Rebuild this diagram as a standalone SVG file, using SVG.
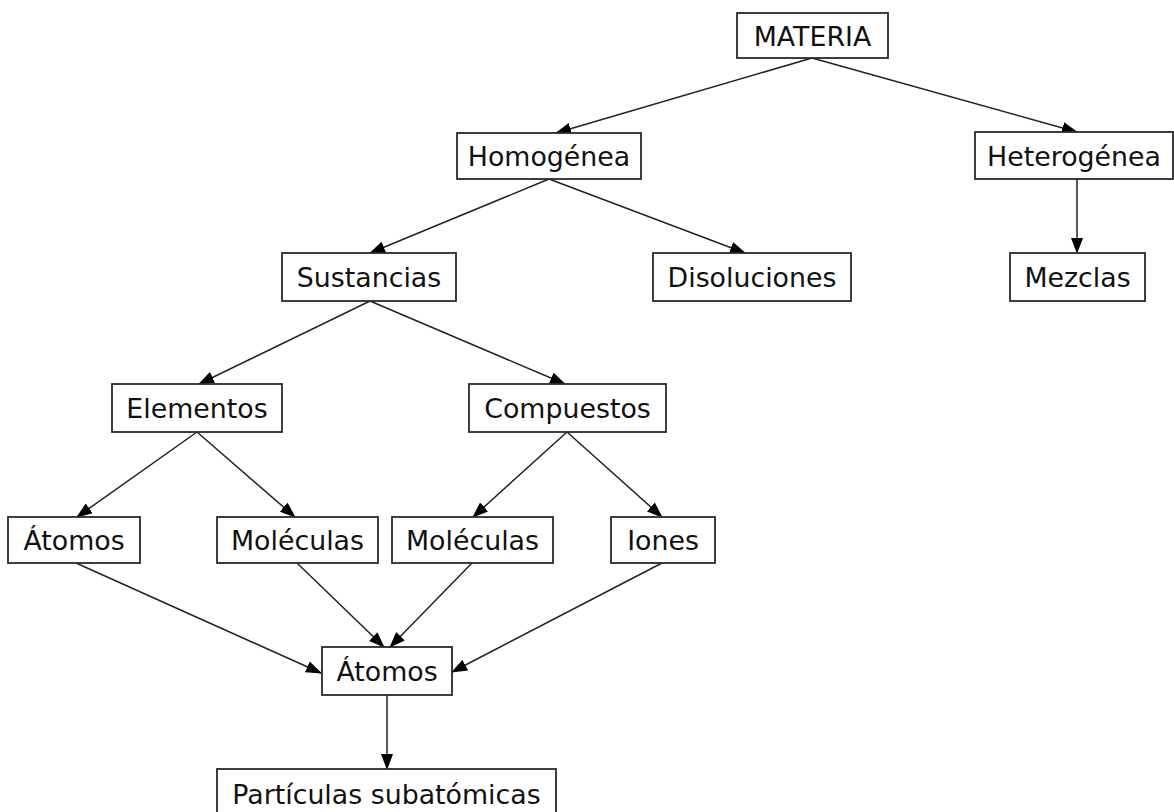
<svg xmlns="http://www.w3.org/2000/svg" width="1174" height="812" viewBox="0 0 1174 812">
<style>
rect{fill:#fff;stroke:#2a2a2a;stroke-width:1.8}
text{font-family:"DejaVu Sans",sans-serif;font-size:26.8px;fill:#111;text-anchor:middle}
#edges line{stroke:#222;stroke-width:1.5;marker-end:url(#ah)}
</style>
<defs>
<marker id="ah" markerWidth="16" markerHeight="12" refX="15" refY="6" orient="auto" markerUnits="userSpaceOnUse">
<path d="M0,0 L16,6 L0,12 Z" fill="#000"/>
</marker>
</defs>
<rect x="0" y="0" width="1174" height="812" style="fill:#fff;stroke:none"/>
<g id="edges">
<line x1="812" y1="58" x2="556" y2="133"/>
<line x1="812" y1="58" x2="1077" y2="132"/>
<line x1="549" y1="179" x2="370" y2="253"/>
<line x1="549" y1="179" x2="745" y2="253"/>
<line x1="1077" y1="179" x2="1077" y2="253"/>
<line x1="370" y1="301" x2="199" y2="384"/>
<line x1="370" y1="301" x2="565" y2="384"/>
<line x1="197" y1="432" x2="77" y2="517"/>
<line x1="197" y1="432" x2="295" y2="517"/>
<line x1="567" y1="432" x2="473" y2="517"/>
<line x1="567" y1="432" x2="662" y2="517"/>
<line x1="76" y1="563" x2="321" y2="673"/>
<line x1="297" y1="563" x2="384" y2="647"/>
<line x1="472" y1="563" x2="390" y2="647"/>
<line x1="662" y1="563" x2="452" y2="672"/>
<line x1="387" y1="695" x2="387" y2="769"/>
</g>
<g id="materia"><rect x="737" y="13" width="151" height="45"/><text x="812.5" y="46">MATERIA</text></g>
<g id="homogenea"><rect x="457" y="133" width="184" height="46"/><text x="549" y="166">Homogénea</text></g>
<g id="heterogenea"><rect x="975" y="132" width="198" height="47"/><text x="1074" y="166">Heterogénea</text></g>
<g id="sustancias"><rect x="282" y="253" width="174" height="48"/><text x="369" y="287">Sustancias</text></g>
<g id="disoluciones"><rect x="653" y="253" width="198" height="48"/><text x="752" y="287">Disoluciones</text></g>
<g id="mezclas"><rect x="1010" y="253" width="135" height="48"/><text x="1077.5" y="287">Mezclas</text></g>
<g id="elementos"><rect x="112" y="384" width="170" height="48"/><text x="197" y="418">Elementos</text></g>
<g id="compuestos"><rect x="469" y="384" width="197" height="48"/><text x="567.5" y="418">Compuestos</text></g>
<g id="atomos1"><rect x="8" y="517" width="132" height="46"/><text x="74" y="550">Átomos</text></g>
<g id="moleculas1"><rect x="217" y="517" width="161" height="46"/><text x="297.5" y="550">Moléculas</text></g>
<g id="moleculas2"><rect x="392" y="517" width="161" height="46"/><text x="472.5" y="550">Moléculas</text></g>
<g id="iones"><rect x="611" y="517" width="104" height="46"/><text x="663" y="550">Iones</text></g>
<g id="atomos2"><rect x="322" y="647" width="130" height="48"/><text x="387" y="681">Átomos</text></g>
<g id="particulas"><rect x="217" y="769" width="339" height="50"/><text x="386.5" y="804">Partículas subatómicas</text></g>
</svg>
